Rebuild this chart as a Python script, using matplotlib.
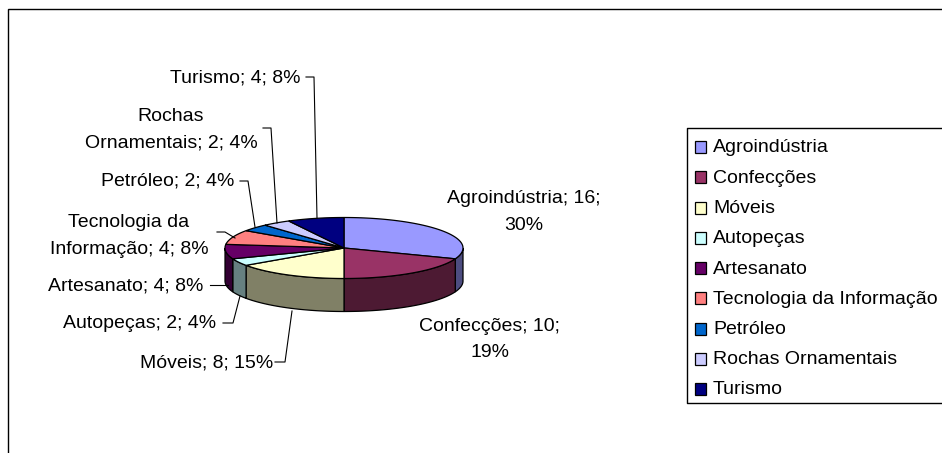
import numpy as np
import matplotlib
matplotlib.use('Agg')
import matplotlib.pyplot as plt

plt.rcParams['font.family'] = ['Liberation Sans', 'DejaVu Sans']

setores = ['Agroindústria', 'Confecções', 'Móveis', 'Autopeças', 'Artesanato',
           'Tecnologia da Informação', 'Petróleo', 'Rochas Ornamentais', 'Turismo']
valores = [16, 10, 8, 2, 4, 4, 2, 2, 4]
percentuais = [30, 19, 15, 4, 8, 8, 4, 4, 8]
cores = ['#9999FF', '#993366', '#FFFFCC', '#CCFFFF', '#660066',
         '#FF8080', '#0066CC', '#CCCCFF', '#000080']
cores_lado = ['#4D4D80', '#4D1A33', '#808066', '#668080', '#330033',
              '#804040', '#003366', '#666680', '#000040']

# pie geometry in pixels
cx, cy = 344, 248
rx, ry = 119, 30.5
prof = 33
FS = 14

fig = plt.figure(figsize=(9.42, 4.53), dpi=100)
ax = fig.add_axes([0, 0, 1, 1])
ax.set_xlim(0, 942)
ax.set_ylim(453, 0)
ax.axis('off')

# chart frame, cropped on the right and at the bottom
ax.plot([7.5, 7.5, 942], [453, 8.5, 8.5], color='black', lw=1, solid_joinstyle='miter')


def borda(t):
    return cx + rx * np.sin(t), cy - ry * np.cos(t)


limites = np.cumsum([0] + valores) / sum(valores) * 2 * np.pi

# side wall first, only the front half shows
for i in range(len(valores)):
    a = max(limites[i], np.pi / 2)
    b = min(limites[i + 1], 3 * np.pi / 2)
    if a >= b:
        continue
    t = np.linspace(a, b, 60)
    x, y = borda(t)
    ax.fill(np.r_[x, x[::-1]], np.r_[y, y[::-1] + prof], facecolor=cores_lado[i],
            edgecolor='black', lw=0.9, zorder=2)

for i in range(len(valores)):
    t = np.linspace(limites[i], limites[i + 1], 80)
    x, y = borda(t)
    ax.fill(np.r_[cx, x], np.r_[cy, y], facecolor=cores[i], edgecolor='black',
            lw=0.9, zorder=3)

# data labels
rotulos = [(f'{s}; {v}; {p}%') for s, v, p in zip(setores, valores, percentuais)]
rotulos[0] = 'Agroindústria; 16;\n30%'
rotulos[1] = 'Confecções; 10;\n19%'
rotulos[5] = 'Tecnologia da\nInformação; 4; 8%'
rotulos[7] = 'Rochas\nOrnamentais; 2; 4%'
pos_rotulos = [(524, 212), (489.5, 339.5), (206.5, 363), (139.5, 324), (126, 286),
               (129, 236), (167.5, 181), (171, 130), (235, 78)]
for r, (x, y) in zip(rotulos, pos_rotulos):
    ax.text(x, y, r, ha='center', va='center', fontsize=FS, linespacing=1.7, zorder=5)

# leader lines
guias = [
    ([275, 285, 292], [362, 362, 311]),
    ([223, 233, 240], [323, 323, 296]),
    ([210, 228], [285, 285]),
    ([217, 225, 235], [232, 232, 238]),
    ([240, 248, 255], [181, 181, 227]),
    ([263, 271, 277], [128, 128, 223]),
    ([306, 314, 317], [77, 77, 218]),
]
for x, y in guias:
    ax.plot(x, y, color='black', lw=0.8, zorder=4)

# legend box
ax.plot([942, 686.5, 686.5, 942], [128, 128, 402.5, 402.5], color='black', lw=1)
for i, s in enumerate(setores):
    ym = 147 + i * 30.25
    ax.add_patch(plt.Rectangle((694.5, ym - 6), 11.5, 12, facecolor=cores[i],
                               edgecolor='black', lw=0.9))
    ax.text(713, ym + 5.5, s, ha='left', va='baseline', fontsize=FS)

fig.savefig('out.png', dpi=100, facecolor='white')
